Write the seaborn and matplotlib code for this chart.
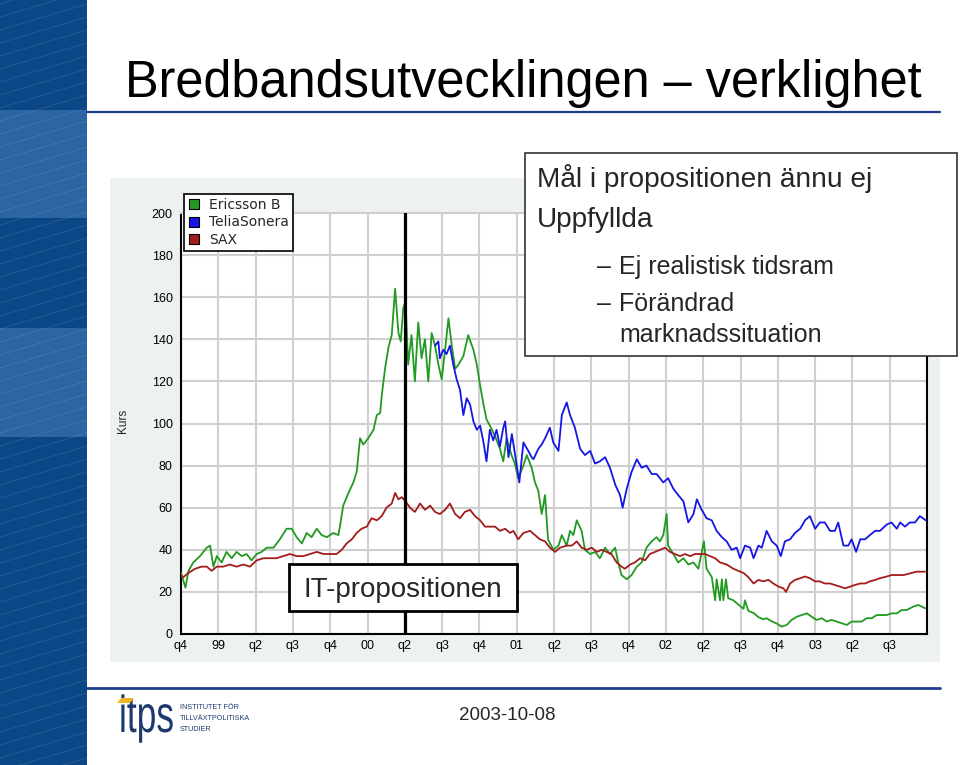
import numpy as np
import pandas as pd
import matplotlib
matplotlib.use("Agg")
import matplotlib.pyplot as plt
from matplotlib.patches import Rectangle, PathPatch, Polygon
from matplotlib.lines import Line2D
from matplotlib.textpath import TextPath
from matplotlib.font_manager import FontProperties
from matplotlib.transforms import Affine2D, IdentityTransform
import seaborn as sns

# ---------------- data (x = quarters since start of 1998 Q4) ----------------
quarter_labels = ["q4", "99", "q2", "q3", "q4", "00", "q2", "q3", "q4", "01",
                  "q2", "q3", "q4", "02", "q2", "q3", "q4", "03", "q2", "q3"]
y_ticks = [0, 20, 40, 60, 80, 100, 120, 140, 160, 180, 200]
series_names = ["Ericsson B", "TeliaSonera", "SAX"]
it_prop_quarter = 6  # q2 2000

ericsson_t = [0.00, 0.12, 0.20, 0.33, 0.51, 0.69, 0.78, 0.87, 0.96, 1.09,
              1.22, 1.36, 1.49, 1.63, 1.76, 1.89, 2.03, 2.16, 2.30, 2.48,
              2.65, 2.83, 2.97, 3.10, 3.24, 3.37, 3.50, 3.64, 3.77, 3.91,
              4.08, 4.22, 4.26, 4.35, 4.49, 4.62, 4.71, 4.80, 4.89, 5.02,
              5.16, 5.25, 5.34, 5.38, 5.47, 5.56, 5.65, 5.74, 5.83, 5.89,
              5.96, 6.02, 6.09, 6.18, 6.27, 6.36, 6.45, 6.54, 6.63, 6.72,
              6.81, 6.90, 6.99, 7.08, 7.17, 7.26, 7.35, 7.44, 7.57, 7.70,
              7.84, 7.93, 8.02, 8.11, 8.19, 8.28, 8.42, 8.55, 8.64, 8.73,
              8.86, 8.95, 9.04, 9.18, 9.27, 9.40, 9.49, 9.58, 9.67, 9.76,
              9.84, 9.98, 10.12, 10.21, 10.34, 10.43, 10.52, 10.61, 10.74, 10.83,
              10.97, 11.10, 11.23, 11.37, 11.50, 11.64, 11.72, 11.81, 11.95, 12.08,
              12.22, 12.35, 12.48, 12.62, 12.75, 12.84, 12.93, 13.02, 13.06, 13.20,
              13.33, 13.47, 13.60, 13.74, 13.87, 14.02, 14.09, 14.23, 14.27, 14.32,
              14.36, 14.45, 14.50, 14.54, 14.61, 14.67, 14.81, 14.94, 15.08, 15.12,
              15.21, 15.35, 15.48, 15.61, 15.70, 15.84, 15.97, 16.10, 16.24, 16.37,
              16.51, 16.64, 16.78, 16.91, 17.04, 17.18, 17.31, 17.44, 17.58, 17.71,
              17.85, 17.98, 18.12, 18.25, 18.38, 18.52, 18.65, 18.79, 18.92, 19.05,
              19.19, 19.32, 19.46, 19.63, 19.77, 19.95]
ericsson_v = [29, 22, 30, 34, 37, 41, 42, 32, 37, 34,
              39, 36, 39, 37, 38, 35, 38, 39, 41, 41,
              45, 50, 50, 46, 43, 48, 46, 50, 47, 46,
              48, 47, 51, 61, 67, 72, 77, 93, 90, 93,
              97, 104, 105, 113, 126, 136, 142, 164, 143, 139,
              155, 158, 128, 142, 120, 148, 131, 140, 120, 143,
              137, 128, 121, 135, 150, 137, 126, 128, 132, 142,
              135, 128, 118, 109, 102, 99, 94, 88, 82, 93,
              85, 81, 74, 80, 85, 79, 72, 68, 57, 66,
              45, 40, 42, 47, 42, 49, 47, 54, 49, 40,
              38, 39, 36, 41, 38, 41, 34, 28, 26, 28,
              32, 34, 41, 44, 46, 44, 47, 57, 42, 38,
              34, 36, 33, 34, 31, 44, 31, 27, 22, 16,
              26, 16, 26, 16, 26, 17, 16, 14, 12, 16,
              11, 10, 8, 7, 7.5, 6, 5, 3.5, 4.3, 6.7,
              8.2, 9, 9.8, 8.2, 6.7, 7.5, 5.9, 6.7, 5.9, 5.1,
              4.3, 5.9, 5.9, 5.9, 7.5, 7.5, 9, 9, 9, 9.8,
              9.8, 11.4, 11.4, 13, 13.8, 12.2]

telia_t = [6.81, 6.90, 6.94, 7.03, 7.12, 7.21, 7.30, 7.39, 7.48, 7.57,
           7.66, 7.75, 7.84, 7.93, 8.02, 8.11, 8.19, 8.28, 8.37, 8.46,
           8.55, 8.64, 8.69, 8.78, 8.87, 8.95, 9.07, 9.18, 9.31, 9.40,
           9.45, 9.58, 9.67, 9.76, 9.89, 9.98, 10.12, 10.21, 10.34, 10.43,
           10.56, 10.70, 10.83, 10.97, 11.10, 11.23, 11.37, 11.50, 11.64, 11.77,
           11.84, 11.95, 12.08, 12.22, 12.35, 12.48, 12.62, 12.75, 12.93, 13.06,
           13.20, 13.33, 13.47, 13.60, 13.74, 13.83, 13.96, 14.09, 14.23, 14.36,
           14.50, 14.63, 14.76, 14.90, 14.99, 15.12, 15.26, 15.35, 15.48, 15.57,
           15.70, 15.84, 15.97, 16.08, 16.19, 16.33, 16.46, 16.60, 16.73, 16.86,
           17.00, 17.13, 17.26, 17.40, 17.53, 17.62, 17.76, 17.89, 17.98, 18.10,
           18.21, 18.34, 18.47, 18.61, 18.74, 18.92, 19.05, 19.19, 19.28, 19.41,
           19.54, 19.68, 19.81, 19.97]
telia_v = [137, 139, 131, 135, 133, 137, 128, 121, 116, 104,
           112, 109, 101, 97, 99, 91, 82, 97, 92, 97,
           89, 98, 101, 84, 95, 86, 72, 91, 87, 84,
           83, 88, 90, 93, 98, 91, 87, 104, 110, 104,
           98, 88, 85, 87, 81, 82, 84, 79, 71, 66,
           60, 69, 77, 83, 79, 80, 76, 76, 72, 74,
           69, 66, 63, 53, 57, 64, 59, 55, 54, 49,
           46, 44, 40, 41, 36, 42, 41, 36, 42, 41,
           49, 44, 42, 37, 44, 45, 48, 50, 54, 56,
           50, 53, 53, 49, 49, 53, 42, 42, 45, 39,
           45, 45, 47, 49, 49, 52, 53, 50, 53, 51,
           53, 53, 56, 54]

sax_t = [0.00, 0.06, 0.20, 0.38, 0.55, 0.69, 0.82, 0.96, 1.13, 1.31,
         1.49, 1.67, 1.85, 2.03, 2.21, 2.39, 2.56, 2.74, 2.92, 3.10,
         3.28, 3.46, 3.64, 3.82, 3.99, 4.17, 4.31, 4.44, 4.58, 4.71,
         4.84, 4.98, 5.11, 5.25, 5.38, 5.51, 5.65, 5.74, 5.83, 5.92,
         6.02, 6.14, 6.27, 6.41, 6.54, 6.68, 6.81, 6.94, 7.08, 7.21,
         7.35, 7.48, 7.61, 7.75, 7.88, 8.02, 8.15, 8.28, 8.42, 8.55,
         8.69, 8.82, 8.91, 9.04, 9.18, 9.36, 9.49, 9.62, 9.76, 9.89,
         10.03, 10.16, 10.34, 10.48, 10.61, 10.74, 10.88, 11.01, 11.15, 11.28,
         11.41, 11.54, 11.68, 11.81, 11.90, 12.04, 12.17, 12.31, 12.44, 12.57,
         12.71, 12.84, 12.98, 13.11, 13.24, 13.38, 13.51, 13.65, 13.78, 13.92,
         14.05, 14.18, 14.32, 14.45, 14.63, 14.81, 14.94, 15.08, 15.21, 15.35,
         15.48, 15.61, 15.75, 15.88, 16.02, 16.15, 16.22, 16.33, 16.46, 16.60,
         16.73, 16.86, 17.00, 17.13, 17.26, 17.40, 17.53, 17.67, 17.80, 17.94,
         18.07, 18.21, 18.34, 18.47, 18.61, 18.74, 18.92, 19.05, 19.19, 19.37,
         19.54, 19.72, 19.95]
sax_v = [28, 27, 29, 31, 32, 32, 30, 32, 32, 33,
         32, 33, 32, 35, 36, 36, 36, 37, 38, 37,
         37, 38, 39, 38, 38, 38, 40, 43, 45, 48,
         50, 51, 55, 54, 56, 60, 62, 67, 64, 65,
         63, 60, 58, 62, 59, 61, 58, 57, 59, 62,
         57, 55, 58, 59, 56, 54, 51, 51, 51, 49,
         50, 48, 49, 45, 48, 49, 47, 45, 44, 41,
         39, 41, 42, 42, 44, 41, 40, 41, 39, 40,
         39, 38, 34, 32, 31, 33, 34, 36, 35, 38,
         39, 40, 41, 39, 38, 37, 38, 37, 38, 38,
         38, 37, 36, 34, 33, 31, 30, 29, 27, 24,
         25.7, 25, 25.7, 24, 22.5, 21.7, 20, 24, 25.7, 26.5,
         27.3, 26.5, 25, 25, 24, 24, 23.3, 22.5, 21.7, 22.5,
         23.3, 24, 24, 25, 25.7, 26.5, 27.3, 28, 28, 28,
         28.8, 29.6, 29.6]

title_text = "Bredbandsutvecklingen – verklighet"
box_main = ["Mål i propositionen ännu ej", "Uppfyllda"]
box_sub = ["Ej realistisk tidsram", "Förändrad", "marknadssituation"]
it_text = "IT-propositionen"
date_text = "2003-10-08"
logo_lines = ["INSTITUTET FÖR", "TILLVÄXTPOLITISKA", "STUDIER"]

# ---------------- style ----------------
sns.set_style("white")
plt.rcParams["font.family"] = ["Liberation Sans", "DejaVu Sans"]

W, H = 960, 765
fig = plt.figure(figsize=(9.6, 7.65), dpi=100)
fig.patch.set_facecolor("white")


def fx(px):
    return px / W


def fy(py):
    return 1 - py / H


navy = "#1c3f8c"
colors = {"Ericsson B": "#229a22", "TeliaSonera": "#1515e6", "SAX": "#a31c1c"}

# left decorative stripe
stripe_dark = "#0b4787"
stripe_light = "#2b65a4"
fig.add_artist(Rectangle((0, 0), fx(87), 1, transform=fig.transFigure,
                         facecolor=stripe_dark, edgecolor="none", zorder=-3))
for top, bot in [(110, 218), (328, 437)]:
    fig.add_artist(Rectangle((0, fy(bot)), fx(87), (bot - top) / H,
                             transform=fig.transFigure, facecolor=stripe_light,
                             edgecolor="none", zorder=-3))
for y0 in range(0, 800, 13):
    fig.add_artist(Line2D([0, fx(87)], [fy(y0 + 4), fy(y0 - 22)],
                          transform=fig.transFigure, color="white",
                          alpha=0.10, lw=0.7, zorder=-2))

# rules
fig.add_artist(Line2D([fx(87), fx(940)], [fy(112), fy(112)],
                      transform=fig.transFigure, color=navy, lw=1.6))
fig.add_artist(Line2D([fx(87), fx(940)], [fy(688), fy(688)],
                      transform=fig.transFigure, color=navy, lw=2.0))

# title
fig.text(fx(125), fy(97), title_text, fontsize=36.4, ha="left", va="baseline",
         color="black")

# chart panel background
fig.add_artist(Rectangle((fx(110), fy(662)), fx(940) - fx(110), (662 - 178) / H,
                         transform=fig.transFigure, facecolor="#edf1f0",
                         edgecolor="none", zorder=-1))

# ---------------- chart ----------------
ax = fig.add_axes([fx(181), fy(634), fx(927) - fx(181), (634 - 213) / H])
ax.set_facecolor("white")

df = pd.concat([
    pd.DataFrame({"kvartal": ericsson_t, "kurs": ericsson_v, "aktie": "Ericsson B"}),
    pd.DataFrame({"kvartal": telia_t, "kurs": telia_v, "aktie": "TeliaSonera"}),
    pd.DataFrame({"kvartal": sax_t, "kurs": sax_v, "aktie": "SAX"}),
], ignore_index=True)

sns.lineplot(data=df, x="kvartal", y="kurs", hue="aktie",
             hue_order=series_names, palette=colors, estimator=None,
             sort=False, linewidth=1.3, legend=False, ax=ax, zorder=3)

ax.set_xlim(0, 20)
ax.set_ylim(0, 200)
ax.set_xticks(range(len(quarter_labels)))
ax.set_xticklabels(quarter_labels)
ax.set_yticks(y_ticks)
ax.set_yticklabels([str(v) for v in y_ticks])
ax.grid(True, color="#cfcfcf", lw=1.5, zorder=0)
ax.set_axisbelow(True)
ax.tick_params(axis="both", length=0, labelsize=9, colors="black")
ax.tick_params(axis="y", pad=6)
ax.tick_params(axis="x", pad=4)
ax.set_xlabel("")
ax.set_ylabel("")
for side in ["left", "bottom", "right"]:
    ax.spines[side].set_visible(True)
    ax.spines[side].set_color("black")
    ax.spines[side].set_linewidth(1.5)
ax.spines["top"].set_visible(True)
ax.spines["top"].set_color("#cfcfcf")
ax.spines["top"].set_linewidth(1.5)

ax.axvline(it_prop_quarter, color="black", lw=2.3, zorder=4)

fig.text(fx(123), fy(421), "Kurs", rotation=90, fontsize=8.5, ha="center",
         va="center")

# legend
handles = [Line2D([], [], marker="s", linestyle="None", markersize=7.5,
                  markerfacecolor=colors[n], markeredgecolor="black",
                  markeredgewidth=0.8) for n in series_names]
leg = fig.legend(handles, series_names, loc="upper left",
                 bbox_to_anchor=(fx(184), fy(194)), bbox_transform=fig.transFigure,
                 borderaxespad=0, frameon=True, fancybox=False, edgecolor="black",
                 framealpha=1, borderpad=0.3, handlelength=0.8,
                 handletextpad=0.7, labelspacing=0.24,
                 prop={"family": "DejaVu Sans", "size": 10})
leg.get_frame().set_linewidth(1.2)
leg.set_zorder(5)

# IT-propositionen box
fig.add_artist(Rectangle((fx(289), fy(611)), (517 - 289) / W, (611 - 564) / H,
                         transform=fig.transFigure, facecolor="white",
                         edgecolor="black", lw=2.0, zorder=5))
fig.text(fx(403), fy(597), it_text, fontsize=20, ha="center", va="baseline",
         zorder=6)

# text box top right
fig.add_artist(Rectangle((fx(525), fy(356)), (957 - 525) / W, (356 - 153) / H,
                         transform=fig.transFigure, facecolor="white",
                         edgecolor="#333333", lw=1.2, zorder=5))
fig.text(fx(537), fy(187), box_main[0], fontsize=20.2, ha="left",
         va="baseline", zorder=6)
fig.text(fx(537), fy(227), box_main[1], fontsize=20.2, ha="left",
         va="baseline", zorder=6)
fig.text(fx(597), fy(274), "–", fontsize=18, ha="left", va="baseline", zorder=6)
fig.text(fx(619), fy(274), box_sub[0], fontsize=18, ha="left",
         va="baseline", zorder=6)
fig.text(fx(597), fy(311), "–", fontsize=18, ha="left", va="baseline", zorder=6)
fig.text(fx(619), fy(311), box_sub[1], fontsize=18, ha="left",
         va="baseline", zorder=6)
fig.text(fx(619), fy(342), box_sub[2], fontsize=18, ha="left",
         va="baseline", zorder=6)

# footer: date
fig.text(fx(507), fy(720), date_text, fontsize=13.5, ha="center", va="baseline")

# footer: logo
logo_color = "#1d3a70"
tp = TextPath((0, 0), "itps", size=52, prop=FontProperties(family="Liberation Sans"))
logo_tr = Affine2D().scale(0.68, 1.0).translate(119, H - 732)
fig.add_artist(PathPatch(tp, transform=logo_tr + IdentityTransform(),
                         facecolor=logo_color, edgecolor="none"))
fig.add_artist(Polygon([[fx(117), fy(703)], [fx(121), fy(698)], [fx(134), fy(698)],
                        [fx(130), fy(703)]], closed=True, transform=fig.transFigure,
                       facecolor="#f0b323", edgecolor="none", zorder=3))
for i, line in enumerate(logo_lines):
    fig.text(fx(180), fy(709 + 11 * i), line, fontsize=5.2, ha="left",
             va="baseline", color=logo_color)

fig.savefig("out.png", dpi=100)
